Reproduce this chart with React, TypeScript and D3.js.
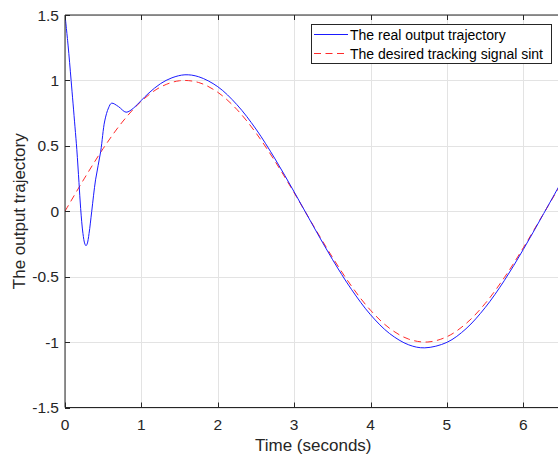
import React from "react";
import * as d3 from "d3";

const W = 558;
const H = 457;

const xTicks = [0, 1, 2, 3, 4, 5, 6];
const yTicks = [-1.5, -1, -0.5, 0, 0.5, 1, 1.5];
const yTickLabels = ["-1.5", "-1", "-0.5", "0", "0.5", "1", "1.5"];

// Real output trajectory (blue)
const realT = [0, 0.04, 0.08, 0.13, 0.155, 0.183, 0.205, 0.235, 0.26, 0.275, 0.29, 0.315, 0.35, 0.4, 0.467, 0.52, 0.57, 0.61, 0.7, 0.8, 0.9, 1.0, 1.1, 1.25, 1.4, 1.57, 1.75, 2.0, 2.25, 2.5, 2.75, 3.0, 3.25, 3.5, 3.75, 4.0, 4.25, 4.5, 4.71, 5.0, 5.25, 5.5, 5.75, 6.0, 6.25, 6.5];
const realY = [1.5, 1.27, 1.0, 0.65, 0.47, 0.22, 0.02, -0.17, -0.25, -0.263, -0.25, -0.17, 0.0, 0.24, 0.456, 0.69, 0.79, 0.826, 0.8, 0.757, 0.79, 0.848, 0.905, 0.975, 1.02, 1.043, 1.028, 0.952, 0.815, 0.628, 0.4, 0.148, -0.113, -0.367, -0.597, -0.791, -0.935, -1.021, -1.044, -1.002, -0.898, -0.737, -0.531, -0.292, -0.035, 0.225];

// Desired tracking signal sin t (red dashed)
const desiredT = [0, 0.25, 0.5, 0.75, 1.0, 1.25, 1.5, 1.75, 2.0, 2.25, 2.5, 2.75, 3.0, 3.25, 3.5, 3.75, 4.0, 4.25, 4.5, 4.75, 5.0, 5.25, 5.5, 5.75, 6.0, 6.25, 6.5];
const desiredY = [0, 0.2474, 0.4794, 0.6816, 0.8415, 0.949, 0.9975, 0.984, 0.9093, 0.7781, 0.5985, 0.3817, 0.1411, -0.1082, -0.3508, -0.5716, -0.7568, -0.895, -0.9775, -0.9993, -0.9589, -0.8589, -0.7055, -0.5083, -0.2794, -0.0332, 0.2151];

const legendLabels = ["The real output trajectory", "The desired tracking signal sint"];

const FONT = "'Liberation Sans', Arial, Helvetica, sans-serif";
const AX = "#262626";
const GRID = "#e3e3e3";
const DASH = "7,4.5";

export default function App() {
  const x = d3.scaleLinear().domain([0, 6.5]).range([65, 561.5]);
  const y = d3.scaleLinear().domain([-1.5, 1.5]).range([407.5, 15]);
  const left = x(0), right = x(6.5), top = y(1.5), bottom = y(-1.5);

  const line = d3
    .line<[number, number]>()
    .x((d) => x(d[0]))
    .y((d) => y(d[1]))
    .curve(d3.curveCatmullRom.alpha(0.5));

  const realPts = realT.map((t, i) => [t, realY[i]] as [number, number]);
  const desPts = desiredT.map((t, i) => [t, desiredY[i]] as [number, number]);

  const tickLen = 5;
  const lx = 311, ly = 24, lw = 240, lh = 39;

  return (
    <div style={{ position: "absolute", left: 0, top: 0 }}>
      <svg width={W} height={H} style={{ display: "block", overflow: "hidden" }} fontFamily={FONT}>
        <rect x={0} y={0} width={W} height={H} fill="#ffffff" />
        <defs>
          <clipPath id="plotclip">
            <rect x={left} y={top} width={right - left} height={bottom - top} />
          </clipPath>
        </defs>
        {/* grid */}
        {xTicks.map((t) => (
          <line key={"gx" + t} x1={Math.round(x(t)) + 0.5} x2={Math.round(x(t)) + 0.5} y1={top} y2={bottom} stroke={GRID} strokeWidth={1} />
        ))}
        {yTicks.map((t) => (
          <line key={"gy" + t} x1={left} x2={right} y1={Math.round(y(t)) + 0.5} y2={Math.round(y(t)) + 0.5} stroke={GRID} strokeWidth={1} />
        ))}
        {/* series */}
        <g clipPath="url(#plotclip)">
          <path d={line(desPts) || ""} fill="none" stroke="#ff2a2a" strokeWidth={1} strokeDasharray={DASH} />
          <path d={line(realPts) || ""} fill="none" stroke="#1a1aff" strokeWidth={1} />
        </g>
        {/* axes box */}
        <line x1={left} x2={right} y1={bottom} y2={bottom} stroke={AX} strokeWidth={1} />
        <line x1={left} x2={right} y1={top} y2={top} stroke={AX} strokeWidth={1} />
        <line x1={left} x2={left} y1={top} y2={bottom} stroke={AX} strokeWidth={1} />
        {/* x ticks */}
        {xTicks.map((t) => (
          <g key={"xt" + t}>
            <line x1={Math.round(x(t)) + 0.5} x2={Math.round(x(t)) + 0.5} y1={bottom} y2={bottom - tickLen} stroke={AX} />
            <line x1={Math.round(x(t)) + 0.5} x2={Math.round(x(t)) + 0.5} y1={top} y2={top + tickLen} stroke={AX} />
            <text x={x(t)} y={430} textAnchor="middle" fontSize={15.5} fill={AX}>{t}</text>
          </g>
        ))}
        {/* y ticks */}
        {yTicks.map((t, i) => (
          <g key={"yt" + t}>
            <line x1={left} x2={left + tickLen} y1={Math.round(y(t)) + 0.5} y2={Math.round(y(t)) + 0.5} stroke={AX} />
            <text x={59} y={y(t)} dy="0.36em" textAnchor="end" fontSize={15.5} fill={AX}>{yTickLabels[i]}</text>
          </g>
        ))}
        {/* axis labels */}
        <text x={(left + right) / 2} y={451} textAnchor="middle" fontSize={17} fill={AX}>Time (seconds)</text>
        <text transform={`translate(25,${(top + bottom) / 2}) rotate(-90)`} textAnchor="middle" fontSize={17} fill={AX}>The output trajectory</text>
        {/* legend */}
        <rect x={lx + 0.5} y={ly + 0.5} width={lw} height={lh} fill="#ffffff" stroke={AX} strokeWidth={1} />
        <line x1={314} x2={348} y1={34.5} y2={34.5} stroke="#1a1aff" strokeWidth={1} />
        <line x1={314} x2={348} y1={53.5} y2={53.5} stroke="#ff2a2a" strokeWidth={1} strokeDasharray={DASH} />
        <text x={350} y={34.5} dy="0.36em" fontSize={14} fill="#000000">{legendLabels[0]}</text>
        <text x={350} y={53.5} dy="0.36em" fontSize={14} fill="#000000">{legendLabels[1]}</text>
      </svg>
    </div>
  );
}
